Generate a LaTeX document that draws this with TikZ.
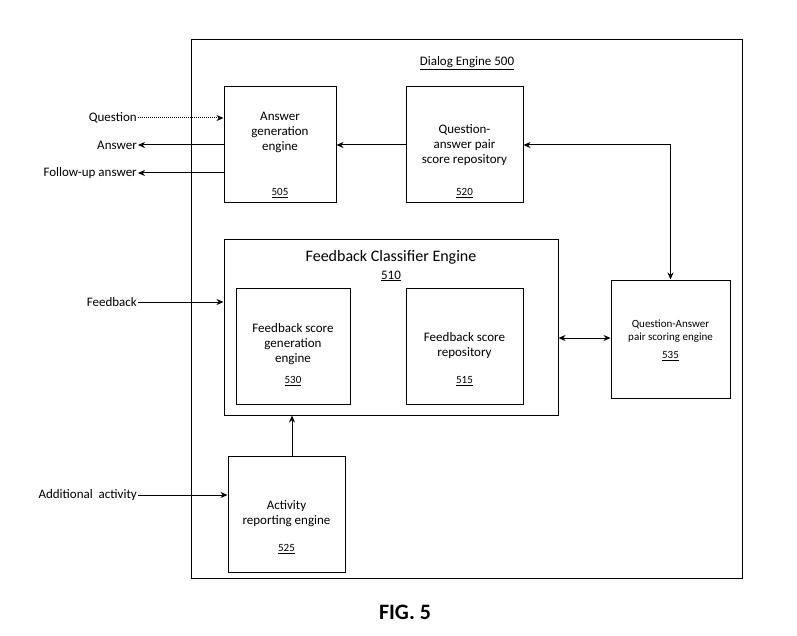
\documentclass[tikz,border=0pt]{standalone}
\usepackage{fontspec}
\setmainfont{Carlito}
\usetikzlibrary{arrows.meta}
\tikzset{
    box/.style={rectangle, draw, line width=1pt, inner sep=0},
    label/.style={align=center, font=\fontsize{13}{15}\selectfont},
    num/.style={font=\fontsize{11}{12}\selectfont},
    side/.style={anchor=east, font=\fontsize{13}{15}\selectfont, inner sep=1pt},
    arr/.style={-{Stealth[length=7pt,width=6pt]}, line width=1pt},
    darr/.style={{Stealth[length=7pt,width=6pt]}-{Stealth[length=7pt,width=6pt]}, line width=1pt},
}
\newcommand{\refnum}[3]{%
    \node[num] (#1) at (#2) {\underline{#3}};
}
\begin{document}
\begin{tikzpicture}[x=1pt,y=-1pt]
    \useasboundingbox (0,0) rectangle (797,636);
    % outer engine
    \node[box, minimum width=551pt, minimum height=538pt] (dialog) at (466.5,309) {};
    \node[label] (dtitle) at (467,63) {\underline{Dialog Engine 500}};
    %
    % upper row
    \node[box, minimum width=112pt, minimum height=116pt] (answer) at (280,145) {};
    \node[label] (answerT) at (280,132) {Answer\\generation\\engine};
    \refnum{answerN}{280,193}{505}
    \node[box, minimum width=117pt, minimum height=116pt] (qarepo) at (464.5,145) {};
    \node[label] (qarepoT) at (464.5,145) {Question-\\answer pair\\score repository};
    \refnum{qarepoN}{464.5,193}{520}
    %
    % classifier
    \node[box, minimum width=334pt, minimum height=175pt] (classifier) at (391,327.5) {};
    \node[label, font=\fontsize{16}{18}\selectfont] (classT) at (391,257) {Feedback Classifier Engine};
    \node[label] (classN) at (391,276) {\underline{510}};
    \node[box, minimum width=114pt, minimum height=116pt] (fbgen) at (293,346) {};
    \node[label] (fbgenT) at (293,344) {Feedback score\\generation\\engine};
    \refnum{fbgenN}{293,381}{530}
    \node[box, minimum width=117pt, minimum height=116pt] (fbrepo) at (464.5,346) {};
    \node[label] (fbrepoT) at (464.5,346) {Feedback score\\repository};
    \refnum{fbrepoN}{464.5,381}{515}
    %
    % scoring and activity
    \node[box, minimum width=119pt, minimum height=118pt] (scoring) at (670.5,339) {};
    \node[label, font=\fontsize{11}{13}\selectfont] (scoringT) at (670.5,331) {Question-Answer\\pair scoring engine};
    \refnum{scoringN}{670.5,356}{535}
    \node[box, minimum width=117pt, minimum height=116pt] (activity) at (286.5,514) {};
    \node[label] (activityT) at (286.5,514) {Activity\\reporting engine};
    \refnum{activityN}{286.5,549}{525}
    %
    % outside inputs and outputs
    \node[side] (question) at (138,118) {Question};
    \node[side] (ans) at (138,145) {Answer};
    \node[side] (follow) at (138,173) {Follow-up answer};
    \node[side] (feedback) at (138,302) {Feedback};
    \node[side] (additional) at (138,495) {Additional\ \ activity};
    \draw[arr, densely dotted] (question.east) -- (answer.west |- question.east);
    \draw[arr] (answer.west |- ans.east) -- (ans.east);
    \draw[arr] (answer.west |- follow.east) -- (follow.east);
    \draw[arr] (feedback.east) -- (classifier.west |- feedback.east);
    \draw[arr] (additional.east) -- (activity.west |- additional.east);
    %
    % internal connectors
    \draw[arr] (qarepo.west) -- (answer.east);
    \draw[darr] (qarepo.east) -| (scoring.north);
    \draw[darr] (classifier.east |- 0,338) -- (scoring.west |- 0,338);
    \draw[arr] (activity.north -| 292,0) -- (classifier.south -| 292,0);
    %
    \node[font=\bfseries\fontsize{22}{24}\selectfont] (fig) at (405,612) {FIG. 5};
\end{tikzpicture}
\end{document}
